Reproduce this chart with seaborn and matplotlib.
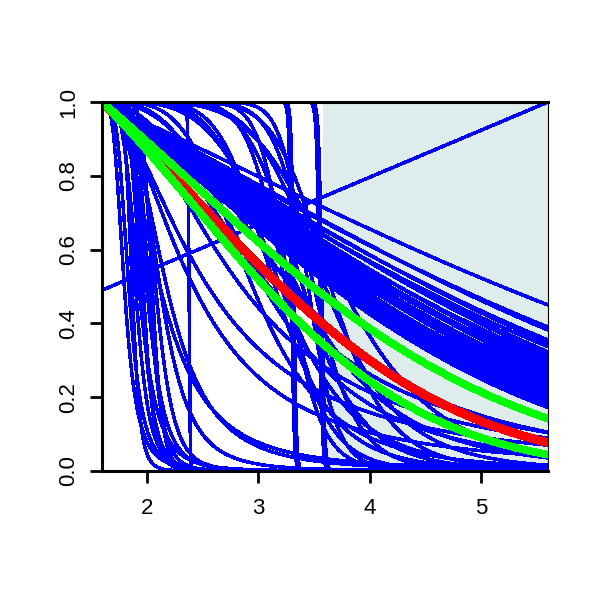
import numpy as np
import pandas as pd
import matplotlib
matplotlib.use('Agg')
import matplotlib.pyplot as plt
import seaborn as sns

# plot range and shaded block
x_min, x_max = 1.6, 5.6
shade_from = 3.585

# near-linear band: value reached at x = 5.6 and initial slope (hazard)
band_end = [0.45, 0.39, 0.382, 0.355, 0.347, 0.337, 0.323, 0.314, 0.306, 0.300,
            0.294, 0.288, 0.282, 0.276, 0.270, 0.265, 0.260, 0.255, 0.250, 0.245,
            0.240, 0.235, 0.230, 0.226, 0.222, 0.218, 0.214, 0.210, 0.205, 0.200,
            0.195, 0.190, 0.182, 0.172]
band_start = [0.14, 0.16, 0.15, 0.17, 0.16, 0.18, 0.17, 0.16, 0.19, 0.18,
              0.17, 0.20, 0.18, 0.19, 0.17, 0.21, 0.19, 0.20, 0.18, 0.21,
              0.20, 0.19, 0.22, 0.21, 0.20, 0.22, 0.21, 0.23, 0.22, 0.21,
              0.23, 0.22, 0.23, 0.23]

# log-logistic drops: x where the curve crosses 0.5, and steepness
early_mid = [1.80, 1.84, 1.87, 1.90, 1.93, 1.95, 1.97, 2.00, 2.02, 2.05, 2.08, 2.12, 2.18]
early_slope = [3.5, 4.0, 7.5, 5.0, 4.0, 6.0, 8.0, 5.0, 7.0, 10.0, 6.0, 4.0, 3.0]
mid_mid = [2.12, 2.42, 2.55, 2.85, 3.10, 3.30]
mid_slope = [2.5, 2.0, 1.8, 2.0, 2.2, 2.5]
late_mid = [2.95, 3.05, 3.15, 3.20, 3.25, 3.28, 3.35, 3.40, 3.45, 3.50, 3.60, 3.65, 3.75]
late_slope = [4.0, 3.0, 6.0, 5.0, 9.0, 12.0, 4.0, 7.0, 15.0, 10.0, 6.0, 8.0, 5.0]
step_mid = [2.38, 3.30, 3.32, 3.55, 3.57]
step_slope = [150, 150, 150, 150, 150]

# rising straight line (y at left and right edge)
rise_y = [0.49, 1.0]

# highlighted curves: linear and quadratic hazard terms
red_curve = (0.29, 0.088)
green_curves = [(0.26, 0.057), (0.30, 0.12)]


def hazard_curve(t, a, b):
    return np.exp(-(a * t + b * t ** 2))


def loglogistic(t, mid, slope):
    return 1.0 / (1.0 + (t / mid) ** slope)


xs = np.linspace(x_min, x_max, 1200)
t = xs - x_min

rows = []
k = 0
for end, a in zip(band_end, band_start):
    b = (-np.log(end) - 4 * a) / 16
    rows.append(pd.DataFrame({'x': xs, 'S': hazard_curve(t, a, b), 'curve': k}))
    k += 1
for mids, slopes in [(early_mid, early_slope), (mid_mid, mid_slope),
                     (late_mid, late_slope), (step_mid, step_slope)]:
    for m, s in zip(mids, slopes):
        rows.append(pd.DataFrame({'x': xs, 'S': loglogistic(t, m - x_min, s), 'curve': k}))
        k += 1
blue_df = pd.concat(rows, ignore_index=True)

plt.rcParams['font.family'] = ['Liberation Sans', 'DejaVu Sans']
fig = plt.figure(figsize=(6, 6), dpi=100)
ax = fig.add_axes([102 / 600, 129 / 600, 446 / 600, 369 / 600])

ax.axvspan(shade_from, x_max, color='#dfecec', lw=0, zorder=0)

sns.lineplot(data=blue_df, x='x', y='S', units='curve', estimator=None,
             color='#0000ff', lw=1.8, sort=False, ax=ax, zorder=2, antialiased=False)
sns.lineplot(x=[x_min, x_max], y=rise_y, color='#0000ff', lw=1.8, ax=ax, zorder=2,
             antialiased=False)

sns.lineplot(x=xs, y=hazard_curve(t, *red_curve), color='#ff0000', lw=5.5, ax=ax,
             zorder=3, antialiased=False)
for g in green_curves:
    sns.lineplot(x=xs, y=hazard_curve(t, *g), color='#00ff00', lw=4.8, ax=ax,
                 zorder=4, antialiased=False)

ax.set_xlim(x_min, x_max)
ax.set_ylim(0, 1)
ax.set_xticks([2, 3, 4, 5])
ax.set_yticks([0, 0.2, 0.4, 0.6, 0.8, 1.0])
ax.set_yticklabels(['0.0', '0.2', '0.4', '0.6', '0.8', '1.0'], rotation=90, va='center')
ax.set_xlabel('')
ax.set_ylabel('')
ax.tick_params(direction='out', length=8.5, width=2, labelsize=16)
ax.tick_params(axis='x', pad=11)
ax.tick_params(axis='y', pad=8)
for side in ['left', 'bottom', 'top']:
    ax.spines[side].set_linewidth(2.2)
ax.spines['right'].set_linewidth(0.8)
for s in ax.spines.values():
    s.set_color('black')
    s.set_zorder(5)

fig.savefig('out.png', dpi=100)
